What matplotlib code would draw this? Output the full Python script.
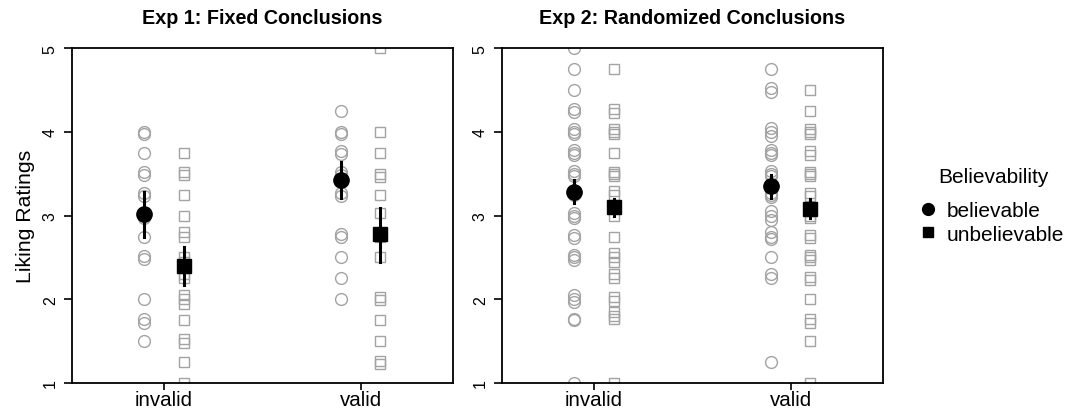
import numpy as np
import matplotlib
matplotlib.use("Agg")
import matplotlib.pyplot as plt
from matplotlib.lines import Line2D

plt.rcParams['font.family'] = ['Liberation Sans', 'DejaVu Sans']

# individual liking ratings
e1_inv_bel = [4.0, 3.97, 3.75, 3.52, 3.48, 3.27, 3.23, 3.0, 2.97, 2.75, 2.52, 2.48, 2.0, 1.76, 1.72, 1.5]
e1_inv_unb = [3.75, 3.52, 3.48, 3.25, 3.0, 2.8, 2.75, 2.5, 2.45, 2.3, 2.25, 2.05, 2.0, 1.95,
              1.75, 1.52, 1.48, 1.25, 1.0]
e1_val_bel = [4.25, 4.0, 3.97, 3.77, 3.74, 3.52, 3.48, 3.27, 3.23, 2.78, 2.74, 2.5, 2.25, 2.0]
e1_val_unb = [5.0, 4.0, 3.75, 3.5, 3.46, 3.25, 3.03, 2.75, 2.5, 2.03, 1.99, 1.75, 1.5, 1.26, 1.23]

e2_inv_bel = [5.0, 4.75, 4.5, 4.27, 4.24, 4.03, 4.0, 3.97, 3.78, 3.75, 3.72, 3.53, 3.5, 3.47,
              3.27, 3.25, 3.03, 3.0, 2.97, 2.77, 2.73, 2.53, 2.5, 2.47, 2.05, 2.0, 1.97,
              1.77, 1.75, 1.0]
e2_inv_unb = [4.75, 4.27, 4.23, 4.03, 4.0, 3.97, 3.75, 3.52, 3.5, 3.47, 3.3, 3.25, 3.1, 3.0,
              2.75, 2.55, 2.5, 2.45, 2.3, 2.25, 2.03, 1.98, 1.85, 1.8, 1.76, 1.0]
e2_val_bel = [4.75, 4.52, 4.48, 4.05, 4.0, 3.95, 3.78, 3.75, 3.72, 3.53, 3.5, 3.47, 3.27, 3.25,
              3.22, 3.05, 3.0, 2.95, 2.8, 2.75, 2.72, 2.5, 2.3, 2.25, 1.25]
e2_val_unb = [4.5, 4.25, 4.03, 4.0, 3.97, 3.77, 3.73, 3.52, 3.5, 3.47, 3.27, 3.23, 3.05, 3.0,
              2.97, 2.77, 2.73, 2.53, 2.5, 2.47, 2.27, 2.23, 2.0, 1.77, 1.72, 1.5, 1.0]

# means and interval ends: [invalid, valid]
e1_bel_mean = [3.02, 3.43]
e1_bel_lo = [2.74, 3.21]
e1_bel_hi = [3.28, 3.64]
e1_unb_mean = [2.40, 2.78]
e1_unb_lo = [2.17, 2.45]
e1_unb_hi = [2.62, 3.09]

e2_bel_mean = [3.28, 3.36]
e2_bel_lo = [3.15, 3.21]
e2_bel_hi = [3.42, 3.49]
e2_unb_mean = [3.10, 3.08]
e2_unb_lo = [3.00, 2.97]
e2_unb_hi = [3.20, 3.20]

validity = ['invalid', 'valid']
titles = ['Exp 1: Fixed Conclusions', 'Exp 2: Randomized Conclusions']
legend_labels = ['believable', 'unbelievable']

grey = '#a3a3a3'
off = 0.1

fig = plt.figure(figsize=(10.66, 4.10), dpi=100)
ax1 = fig.add_axes([0.0673, 0.0634, 0.3577, 0.8164])
ax2 = fig.add_axes([0.4706, 0.0634, 0.3577, 0.8164])

panels = [
    (ax1, [e1_inv_bel, e1_val_bel], [e1_inv_unb, e1_val_unb],
     e1_bel_mean, e1_bel_lo, e1_bel_hi, e1_unb_mean, e1_unb_lo, e1_unb_hi),
    (ax2, [e2_inv_bel, e2_val_bel], [e2_inv_unb, e2_val_unb],
     e2_bel_mean, e2_bel_lo, e2_bel_hi, e2_unb_mean, e2_unb_lo, e2_unb_hi),
]

for i, (ax, bel, unb, bm, bl, bh, um, ul, uh) in enumerate(panels):
    for j in range(2):
        x = j + 1
        ax.plot(np.full(len(bel[j]), x - off), bel[j], 'o', ms=8.5, mfc='none',
                mec=grey, mew=1.0, zorder=2)
        ax.plot(np.full(len(unb[j]), x + off), unb[j], 's', ms=7.8, mfc='none',
                mec=grey, mew=1.0, zorder=2)
        ax.plot([x - off, x - off], [bl[j], bh[j]], color='black', lw=2.2, zorder=3)
        ax.plot([x + off, x + off], [ul[j], uh[j]], color='black', lw=2.2, zorder=3)
        ax.plot(x - off, bm[j], 'o', ms=11, color='black', zorder=4)
        ax.plot(x + off, um[j], 's', ms=10, color='black', zorder=4)

    ax.set_xlim(0.53, 2.47)
    ax.set_ylim(1, 5)
    ax.set_xticks([1, 2])
    ax.set_xticklabels(validity, fontsize=14.8)
    ax.set_yticks([1, 2, 3, 4, 5])
    ax.set_yticklabels(['1', '2', '3', '4', '5'], fontsize=11.5, rotation=90, va='center')
    ax.tick_params(axis='both', direction='out', length=6, width=1.2, color='black')
    ax.tick_params(axis='x', length=5, pad=0)
    ax.tick_params(axis='y', pad=4)
    for s in ax.spines.values():
        s.set_linewidth(1.3)
    ax.set_title(titles[i], fontsize=14.2, fontweight='bold', pad=18)

ax1.set_ylabel('Liking Ratings', fontsize=15.3, labelpad=6)

handles = [
    Line2D([], [], marker='o', ls='none', color='black', ms=8.5),
    Line2D([], [], marker='s', ls='none', color='black', ms=7.5),
]
fig.text(0.9315, 0.566, 'Believability', fontsize=15, ha='center', va='center')
fig.legend(handles, legend_labels, loc='upper left', bbox_to_anchor=(0.845, 0.552),
           frameon=False, fontsize=15, handlelength=0.8, handletextpad=0.5,
           labelspacing=0.2)

fig.savefig('out.png', dpi=100)
